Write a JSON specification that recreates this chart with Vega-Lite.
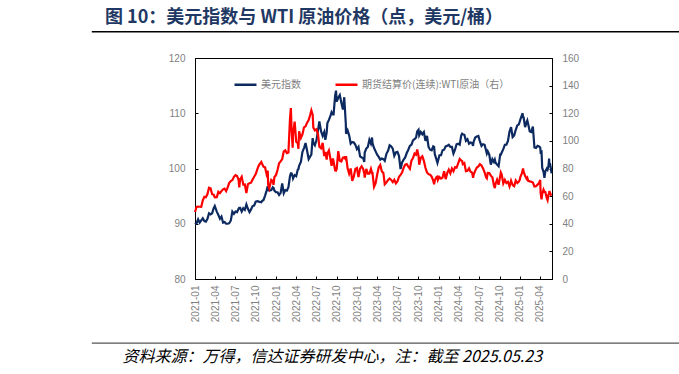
{
  "$schema": "https://vega.github.io/schema/vega-lite/v6.json",
  "width": 357,
  "height": 221,
  "autosize": {"type": "none"},
  "padding": {"left": 195, "top": 58, "right": 127, "bottom": 95},
  "background": "#ffffff",
  "config": {
    "view": {"stroke": "#000000", "strokeWidth": 1},
    "axis": {"labelFont": "Liberation Sans", "labelFontSize": 10, "labelColor": "#7f7f7f", "domainColor": "#000000", "tickColor": "#000000", "grid": false}
  },
  "title": {
    "text": "图 10：美元指数与 WTI 原油价格（点，美元/桶）",
    "anchor": "start",
    "frame": "group",
    "dx": -90,
    "offset": 4,
    "font": "Noto Sans CJK SC",
    "fontSize": 18,
    "fontWeight": "bold",
    "color": "#1f3864"
  },
  "data": {"values": [
    {"d":"2021-01-01","u":89.9,"w":48.5},{"d":"2021-01-08","u":90.1,"w":52.2},{"d":"2021-01-15","u":90.8,"w":52.4},{"d":"2021-01-22","u":90.2,"w":52.3},{"d":"2021-01-29","u":90.6,"w":52.2},
    {"d":"2021-02-05","u":91.0,"w":56.9},{"d":"2021-02-12","u":90.5,"w":59.5},{"d":"2021-02-19","u":90.4,"w":59.2},{"d":"2021-02-26","u":90.9,"w":61.5},
    {"d":"2021-03-05","u":91.9,"w":66.1},{"d":"2021-03-12","u":91.7,"w":65.6},{"d":"2021-03-19","u":91.9,"w":61.4},{"d":"2021-03-26","u":92.8,"w":61.0},{"d":"2021-03-31","u":93.2,"w":59.2},
    {"d":"2021-04-09","u":92.2,"w":59.3},{"d":"2021-04-16","u":91.6,"w":63.1},{"d":"2021-04-23","u":90.9,"w":62.1},{"d":"2021-04-30","u":91.3,"w":63.6},
    {"d":"2021-05-07","u":90.2,"w":64.9},{"d":"2021-05-14","u":90.3,"w":65.4},{"d":"2021-05-21","u":90.0,"w":63.6},{"d":"2021-05-28","u":90.0,"w":66.3},
    {"d":"2021-06-04","u":90.1,"w":69.6},{"d":"2021-06-11","u":90.6,"w":70.9},{"d":"2021-06-18","u":92.2,"w":71.6},{"d":"2021-06-25","u":91.8,"w":74.0},
    {"d":"2021-07-02","u":92.2,"w":75.2},{"d":"2021-07-09","u":92.1,"w":74.6},{"d":"2021-07-16","u":92.7,"w":71.8},{"d":"2021-07-19","u":92.9,"w":66.4},{"d":"2021-07-23","u":92.9,"w":72.1},{"d":"2021-07-30","u":92.2,"w":74.0},
    {"d":"2021-08-06","u":92.8,"w":68.3},{"d":"2021-08-13","u":92.5,"w":68.4},{"d":"2021-08-20","u":93.5,"w":62.3},{"d":"2021-08-27","u":92.7,"w":68.7},
    {"d":"2021-09-03","u":92.1,"w":69.3},{"d":"2021-09-10","u":92.6,"w":69.7},{"d":"2021-09-17","u":93.2,"w":72.0},{"d":"2021-09-24","u":93.3,"w":74.0},
    {"d":"2021-10-01","u":94.0,"w":75.9},{"d":"2021-10-08","u":94.1,"w":79.4},{"d":"2021-10-15","u":94.0,"w":82.3},{"d":"2021-10-26","u":93.9,"w":84.7},{"d":"2021-10-29","u":94.1,"w":83.6},
    {"d":"2021-11-05","u":94.3,"w":81.3},{"d":"2021-11-12","u":95.1,"w":80.8},{"d":"2021-11-19","u":96.0,"w":75.9},{"d":"2021-11-24","u":96.8,"w":78.4},{"d":"2021-11-26","u":96.1,"w":68.2},
    {"d":"2021-12-01","u":96.0,"w":65.6},{"d":"2021-12-10","u":96.1,"w":71.7},{"d":"2021-12-17","u":96.6,"w":70.9},{"d":"2021-12-20","u":96.5,"w":68.2},{"d":"2021-12-24","u":96.0,"w":73.8},{"d":"2021-12-31","u":95.7,"w":75.2},
    {"d":"2022-01-07","u":95.7,"w":78.9},{"d":"2022-01-14","u":95.2,"w":83.8},{"d":"2022-01-21","u":95.6,"w":85.1},{"d":"2022-01-28","u":97.3,"w":86.8},
    {"d":"2022-02-04","u":95.5,"w":92.3},{"d":"2022-02-11","u":96.1,"w":93.1},{"d":"2022-02-18","u":96.0,"w":91.1},{"d":"2022-02-25","u":96.6,"w":91.6},
    {"d":"2022-03-04","u":98.6,"w":115.7},{"d":"2022-03-08","u":99.1,"w":123.7},{"d":"2022-03-11","u":99.1,"w":109.3},{"d":"2022-03-16","u":98.6,"w":95.0},{"d":"2022-03-18","u":98.2,"w":104.7},{"d":"2022-03-25","u":98.8,"w":113.9},
    {"d":"2022-04-01","u":98.6,"w":99.3},{"d":"2022-04-08","u":99.8,"w":98.3},{"d":"2022-04-11","u":99.9,"w":94.3},{"d":"2022-04-14","u":100.5,"w":107.0},{"d":"2022-04-22","u":101.2,"w":102.1},{"d":"2022-04-29","u":103.0,"w":104.7},
    {"d":"2022-05-06","u":103.7,"w":109.8},{"d":"2022-05-13","u":104.6,"w":110.5},{"d":"2022-05-20","u":103.2,"w":113.2},{"d":"2022-05-27","u":101.7,"w":115.1},
    {"d":"2022-06-03","u":102.2,"w":118.9},{"d":"2022-06-08","u":102.5,"w":122.1},{"d":"2022-06-14","u":105.5,"w":118.9},{"d":"2022-06-17","u":104.7,"w":109.6},{"d":"2022-06-24","u":104.2,"w":107.6},
    {"d":"2022-07-01","u":105.1,"w":108.4},{"d":"2022-07-08","u":106.9,"w":104.8},{"d":"2022-07-14","u":108.5,"w":95.8},{"d":"2022-07-22","u":106.7,"w":94.7},{"d":"2022-07-29","u":105.9,"w":98.6},
    {"d":"2022-08-05","u":106.6,"w":89.0},{"d":"2022-08-10","u":105.2,"w":91.9},{"d":"2022-08-16","u":106.5,"w":86.5},{"d":"2022-08-19","u":108.2,"w":90.8},{"d":"2022-08-26","u":108.8,"w":93.1},
    {"d":"2022-09-02","u":109.5,"w":86.9},{"d":"2022-09-07","u":110.2,"w":81.9},{"d":"2022-09-13","u":109.8,"w":87.3},{"d":"2022-09-16","u":109.8,"w":85.1},{"d":"2022-09-23","u":113.2,"w":78.7},{"d":"2022-09-27","u":114.1,"w":78.5},{"d":"2022-09-30","u":112.1,"w":79.5},
    {"d":"2022-10-07","u":112.8,"w":92.6},{"d":"2022-10-14","u":113.3,"w":85.6},{"d":"2022-10-21","u":111.9,"w":85.1},{"d":"2022-10-28","u":110.7,"w":87.9},
    {"d":"2022-11-03","u":112.9,"w":88.2},{"d":"2022-11-10","u":108.1,"w":86.5},{"d":"2022-11-11","u":106.3,"w":89.0},{"d":"2022-11-18","u":106.9,"w":80.1},{"d":"2022-11-25","u":106.0,"w":76.3},
    {"d":"2022-12-02","u":104.5,"w":80.0},{"d":"2022-12-09","u":104.8,"w":71.0},{"d":"2022-12-16","u":104.7,"w":74.3},{"d":"2022-12-23","u":104.3,"w":79.6},{"d":"2022-12-30","u":103.5,"w":80.3},
    {"d":"2023-01-06","u":103.9,"w":73.8},{"d":"2023-01-13","u":102.2,"w":79.9},{"d":"2023-01-20","u":102.0,"w":81.6},{"d":"2023-01-27","u":101.9,"w":79.7},
    {"d":"2023-02-01","u":101.2,"w":76.4},{"d":"2023-02-03","u":102.9,"w":73.4},{"d":"2023-02-10","u":103.6,"w":79.7},{"d":"2023-02-17","u":103.9,"w":76.3},{"d":"2023-02-24","u":105.2,"w":76.3},
    {"d":"2023-03-03","u":104.5,"w":79.7},{"d":"2023-03-08","u":105.6,"w":76.7},{"d":"2023-03-10","u":104.6,"w":76.7},{"d":"2023-03-17","u":103.7,"w":66.7},{"d":"2023-03-24","u":103.1,"w":69.3},{"d":"2023-03-31","u":102.5,"w":75.7},
    {"d":"2023-04-07","u":102.1,"w":80.7},{"d":"2023-04-14","u":101.6,"w":82.5},{"d":"2023-04-21","u":101.8,"w":77.9},{"d":"2023-04-28","u":101.7,"w":76.8},
    {"d":"2023-05-04","u":101.4,"w":68.6},{"d":"2023-05-12","u":102.7,"w":70.0},{"d":"2023-05-19","u":103.2,"w":71.7},{"d":"2023-05-26","u":104.2,"w":72.7},
    {"d":"2023-06-02","u":104.0,"w":71.7},{"d":"2023-06-09","u":103.6,"w":70.2},{"d":"2023-06-16","u":102.3,"w":71.8},{"d":"2023-06-23","u":102.9,"w":69.2},{"d":"2023-06-30","u":103.0,"w":70.6},
    {"d":"2023-07-07","u":102.3,"w":73.9},{"d":"2023-07-14","u":99.9,"w":75.4},{"d":"2023-07-21","u":101.1,"w":77.1},{"d":"2023-07-28","u":101.6,"w":80.6},
    {"d":"2023-08-04","u":102.0,"w":82.8},{"d":"2023-08-11","u":102.8,"w":83.2},{"d":"2023-08-18","u":103.4,"w":81.3},{"d":"2023-08-25","u":104.1,"w":79.8},
    {"d":"2023-09-01","u":104.3,"w":85.6},{"d":"2023-09-08","u":105.1,"w":87.5},{"d":"2023-09-15","u":105.3,"w":90.8},{"d":"2023-09-22","u":105.6,"w":90.0},{"d":"2023-09-27","u":106.7,"w":93.7},
    {"d":"2023-10-03","u":107.0,"w":89.2},{"d":"2023-10-06","u":106.0,"w":82.8},{"d":"2023-10-13","u":106.6,"w":87.7},{"d":"2023-10-20","u":106.2,"w":88.8},{"d":"2023-10-27","u":106.6,"w":85.5},
    {"d":"2023-11-03","u":105.0,"w":80.5},{"d":"2023-11-10","u":105.9,"w":77.2},{"d":"2023-11-17","u":103.9,"w":75.9},{"d":"2023-11-24","u":103.4,"w":75.5},
    {"d":"2023-12-01","u":103.3,"w":74.1},{"d":"2023-12-08","u":104.0,"w":71.2},{"d":"2023-12-12","u":103.9,"w":68.6},{"d":"2023-12-15","u":102.6,"w":71.4},{"d":"2023-12-22","u":101.7,"w":73.6},{"d":"2023-12-27","u":101.0,"w":74.1},{"d":"2023-12-29","u":101.3,"w":71.7},
    {"d":"2024-01-05","u":102.4,"w":73.8},{"d":"2024-01-12","u":102.4,"w":72.7},{"d":"2024-01-19","u":103.3,"w":73.4},{"d":"2024-01-26","u":103.4,"w":78.0},
    {"d":"2024-02-02","u":104.0,"w":72.3},{"d":"2024-02-09","u":104.1,"w":76.8},{"d":"2024-02-16","u":104.3,"w":79.2},{"d":"2024-02-23","u":103.9,"w":76.5},
    {"d":"2024-03-01","u":103.9,"w":80.0},{"d":"2024-03-08","u":102.7,"w":78.0},{"d":"2024-03-15","u":103.4,"w":81.0},{"d":"2024-03-22","u":104.4,"w":80.6},{"d":"2024-03-28","u":104.5,"w":83.2},
    {"d":"2024-04-05","u":104.3,"w":86.9},{"d":"2024-04-12","u":106.0,"w":85.7},{"d":"2024-04-16","u":106.3,"w":85.4},{"d":"2024-04-19","u":106.2,"w":83.1},{"d":"2024-04-26","u":106.1,"w":83.9},
    {"d":"2024-05-03","u":105.0,"w":78.1},{"d":"2024-05-10","u":105.3,"w":78.3},{"d":"2024-05-17","u":104.5,"w":80.1},{"d":"2024-05-24","u":104.7,"w":77.7},{"d":"2024-05-31","u":104.6,"w":77.0},
    {"d":"2024-06-04","u":104.1,"w":73.3},{"d":"2024-06-07","u":104.9,"w":75.5},{"d":"2024-06-14","u":105.6,"w":78.5},{"d":"2024-06-21","u":105.8,"w":80.7},{"d":"2024-06-28","u":105.9,"w":81.5},
    {"d":"2024-07-05","u":104.9,"w":83.2},{"d":"2024-07-12","u":104.1,"w":82.2},{"d":"2024-07-19","u":104.4,"w":80.1},{"d":"2024-07-26","u":104.3,"w":77.2},
    {"d":"2024-08-02","u":103.2,"w":73.5},{"d":"2024-08-05","u":102.7,"w":72.9},{"d":"2024-08-09","u":103.1,"w":76.8},{"d":"2024-08-16","u":102.5,"w":76.7},{"d":"2024-08-23","u":100.7,"w":74.8},{"d":"2024-08-30","u":101.7,"w":73.6},
    {"d":"2024-09-06","u":101.2,"w":67.7},{"d":"2024-09-10","u":101.6,"w":65.8},{"d":"2024-09-13","u":101.1,"w":68.7},{"d":"2024-09-20","u":100.7,"w":71.9},{"d":"2024-09-27","u":100.4,"w":68.2},
    {"d":"2024-10-04","u":102.5,"w":74.4},{"d":"2024-10-07","u":102.5,"w":77.1},{"d":"2024-10-11","u":102.9,"w":75.6},{"d":"2024-10-18","u":103.5,"w":69.2},{"d":"2024-10-25","u":104.3,"w":71.8},
    {"d":"2024-11-01","u":104.3,"w":69.5},{"d":"2024-11-08","u":105.0,"w":70.4},{"d":"2024-11-15","u":106.7,"w":67.0},{"d":"2024-11-22","u":107.5,"w":71.2},{"d":"2024-11-29","u":105.7,"w":68.0},
    {"d":"2024-12-06","u":106.0,"w":67.2},{"d":"2024-12-13","u":107.0,"w":71.3},{"d":"2024-12-20","u":107.8,"w":69.5},{"d":"2024-12-27","u":108.0,"w":70.6},{"d":"2024-12-31","u":108.5,"w":71.7},
    {"d":"2025-01-03","u":108.9,"w":74.0},{"d":"2025-01-10","u":109.7,"w":76.6},{"d":"2025-01-13","u":110.0,"w":78.8},{"d":"2025-01-15","u":109.1,"w":80.0},{"d":"2025-01-17","u":109.4,"w":77.9},{"d":"2025-01-24","u":107.5,"w":74.7},{"d":"2025-01-31","u":108.4,"w":72.5},
    {"d":"2025-02-03","u":108.7,"w":73.2},{"d":"2025-02-07","u":108.0,"w":71.0},{"d":"2025-02-14","u":106.7,"w":70.7},{"d":"2025-02-21","u":106.6,"w":70.4},{"d":"2025-02-28","u":107.6,"w":69.8},
    {"d":"2025-03-07","u":103.8,"w":67.0},{"d":"2025-03-14","u":103.7,"w":67.2},{"d":"2025-03-21","u":104.1,"w":68.3},{"d":"2025-03-28","u":104.0,"w":69.4},
    {"d":"2025-04-02","u":103.8,"w":71.7},{"d":"2025-04-04","u":102.9,"w":62.0},{"d":"2025-04-08","u":103.0,"w":57.6},{"d":"2025-04-11","u":100.1,"w":61.5},{"d":"2025-04-17","u":99.4,"w":64.7},{"d":"2025-04-21","u":98.3,"w":63.1},{"d":"2025-04-25","u":99.5,"w":63.0},
    {"d":"2025-05-02","u":100.0,"w":58.3},{"d":"2025-05-05","u":99.8,"w":57.1},{"d":"2025-05-09","u":100.4,"w":61.0},{"d":"2025-05-12","u":101.8,"w":61.9},{"d":"2025-05-13","u":101.0,"w":63.7},{"d":"2025-05-16","u":100.9,"w":62.5},{"d":"2025-05-20","u":100.0,"w":61.0},{"d":"2025-05-23","u":99.1,"w":61.5}
  ]},
  "layer": [
    {
      "layer": [
        {
          "mark": {"type": "line", "strokeWidth": 2.2},
          "encoding": {
            "x": {
              "field": "d", "type": "temporal",
              "scale": {"domain": ["2021-01-01", "2025-05-25"]},
              "axis": {
                "orient": "bottom",
                "tickCount": {"interval": "month", "step": 3},
                "format": "%Y-%m",
                "labelAngle": 270,
                "tickSize": -3,
                "labelPadding": 9,
                "labelFlush": false,
                "labelOverlap": false,
                "title": "资料来源：万得，信达证券研发中心，注：截至 2025.05.23",
                "titleFont": "Noto Sans CJK SC",
                "titleFontSize": 16,
                "titleFontStyle": "italic",
                "titleFontWeight": "normal",
                "titleColor": "#000000",
                "titleAngle": 0,
                "titleAlign": "left",
                "titleBaseline": "middle",
                "titleAnchor": "start",
                "titleX": -73,
                "titleY": 77
              }
            },
            "y": {
              "field": "u", "type": "quantitative",
              "scale": {"domain": [80, 120], "nice": false, "zero": false},
              "axis": {"orient": "left", "values": [80, 85, 90, 95, 100, 105, 110, 115, 120], "tickSize": -3, "labelPadding": 13, "title": null}
            },
            "color": {
              "datum": "美元指数", "type": "nominal",
              "scale": {"domain": ["美元指数", "期货结算价(连续):WTI原油（右）"], "range": ["#0c2a60", "#ff0000"]},
              "legend": {
                "orient": "none", "legendX": 38, "legendY": 14, "direction": "horizontal",
                "title": null, "symbolType": "stroke", "symbolSize": 484, "symbolStrokeWidth": 2.5,
                "labelFont": "Noto Sans CJK SC", "labelFontSize": 10, "labelColor": "#7f7f7f",
                "columnPadding": 29, "labelOffset": 3
              }
            }
          }
        },
        {
          "data": {"values": [{"a": 1}]},
          "mark": {"type": "rule", "color": "#000000", "strokeWidth": 1.5},
          "encoding": {
            "x": {"datum": {"year": 2019, "month": 9, "date": 25}, "type": "temporal"},
            "x2": {"datum": {"year": 2026, "month": 12, "date": 20}},
            "y": {"datum": 124.75, "type": "quantitative"}
          }
        },
        {
          "data": {"values": [{"a": 1}]},
          "mark": {"type": "rule", "color": "#555555", "strokeWidth": 1.2},
          "encoding": {
            "x": {"datum": {"year": 2019, "month": 9, "date": 25}, "type": "temporal"},
            "x2": {"datum": {"year": 2026, "month": 12, "date": 20}},
            "y": {"datum": 68.4, "type": "quantitative"}
          }
        }
      ]
    },
    {
      "mark": {"type": "line", "strokeWidth": 2.2},
      "encoding": {
        "x": {"field": "d", "type": "temporal"},
        "y": {
          "field": "w", "type": "quantitative",
          "scale": {"domain": [0, 160], "nice": false},
          "axis": {"orient": "right", "values": [0, 20, 40, 60, 80, 100, 120, 140, 160], "tickSize": -3, "labelPadding": 13, "title": null}
        },
        "color": {"datum": "期货结算价(连续):WTI原油（右）", "type": "nominal"}
      }
    }
  ],
  "resolve": {"scale": {"y": "independent"}}
}
